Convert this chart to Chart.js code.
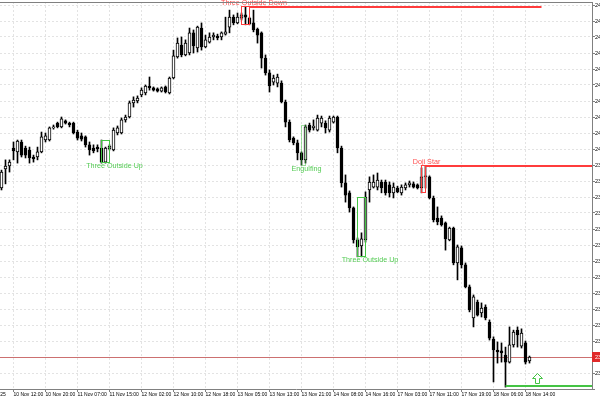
<!DOCTYPE html>
<html><head><meta charset="utf-8">
<script src="https://cdn.jsdelivr.net/npm/chart.js@4.4.1/dist/chart.umd.min.js"></script>
<style>html,body{margin:0;padding:0;background:#fff}#wrap{width:600px;height:400px}</style>
</head><body><div id="wrap"><canvas id="c" width="600" height="400"></canvas></div>
<script>
// ---- DATA (H1 candles) ----
const openP = [23878,23938,23947,24003,23991,24022,24003,23997,23975,23975,
23991,24028,24028,24066,24081,24069,24088,24081,24081,24053,
24041,24038,24013,24003,24006,24003,23959,24000,23997,24050,
24050,24091,24100,24144,24150,24169,24175,24197,24191,24188,
24181,24194,24175,24222,24288,24325,24294,24300,24363,24316,
24378,24319,24334,24350,24353,24350,24359,24381,24412,24394,
24409,24419,24409,24394,24375,24363,24284,24238,24209,24206,
24206,24147,24084,24034,24019,23988,23966,24075,24066,24059,
24081,24081,24059,24084,24100,24003,23894,23863,23816,23716,
23697,23716,23872,23881,23881,23897,23897,23888,23863,23878,
23863,23878,23888,23891,23888,23878,23913,23913,23847,23784,
23784,23769,23716,23753,23644,23691,23638,23569,23472,23522,
23488,23506,23459,23406,23372,23369,23356,23334,23388,23434,
23384,23394,23338];
const highP = [23934,23966,23966,24022,24028,24028,24009,24006,23981,24006,
24053,24050,24069,24075,24084,24100,24091,24084,24084,24059,
24050,24041,24022,24013,24013,24028,24006,24013,24066,24072,
24097,24106,24150,24163,24166,24191,24200,24225,24194,24191,
24194,24197,24225,24309,24347,24350,24341,24378,24372,24384,
24394,24356,24363,24363,24359,24366,24412,24434,24419,24425,
24425,24444,24412,24434,24378,24366,24294,24247,24231,24234,
24213,24153,24091,24038,24028,23991,24075,24081,24091,24106,
24103,24088,24103,24103,24103,24009,23919,23869,23819,23722,
23738,23866,23913,23919,23925,23903,23903,23897,23894,23884,
23888,23894,23900,23897,23891,23941,23947,23916,23853,23819,
23791,23772,23756,23756,23700,23697,23644,23575,23544,23528,
23519,23513,23466,23413,23397,23394,23381,23444,23434,23444,
23438,23400,23353];
const lowP = [23872,23891,23928,23966,23956,23975,23972,23956,23959,23966,
23988,24022,24025,24062,24066,24066,24078,24069,24047,24028,
24025,24006,23981,23988,23991,23956,23956,23997,23994,24044,
24047,24084,24097,24131,24144,24163,24169,24184,24181,24178,
24178,24175,24172,24219,24284,24288,24291,24294,24300,24303,
24309,24316,24331,24341,24341,24341,24356,24363,24388,24391,
24403,24388,24388,24366,24331,24253,24231,24178,24200,24194,
24144,24069,24022,24013,23966,23950,23956,24053,24059,24056,
24069,24050,24053,24081,23988,23881,23834,23803,23706,23663,
23663,23709,23834,23878,23872,23863,23856,23850,23847,23863,
23856,23872,23881,23878,23875,23863,23878,23844,23772,23763,
23759,23684,23713,23638,23591,23628,23566,23491,23444,23478,
23475,23466,23403,23272,23331,23334,23256,23331,23381,23381,
23378,23328,23331];
const closeP = [23928,23947,23959,23994,24025,23981,23981,23972,23969,23991,
24038,24041,24066,24069,24069,24094,24081,24075,24050,24034,
24031,24013,23997,23994,24000,23959,24003,24009,24059,24066,
24091,24100,24144,24153,24159,24184,24197,24191,24184,24181,
24191,24178,24222,24291,24331,24294,24331,24363,24322,24381,
24319,24341,24350,24356,24347,24363,24366,24412,24394,24412,
24419,24412,24391,24372,24356,24284,24238,24197,24222,24225,
24147,24084,24028,24019,23988,23966,24069,24059,24072,24097,
24097,24066,24097,24100,24003,23894,23856,23816,23716,23694,
23719,23850,23897,23897,23903,23878,23863,23863,23881,23866,
23881,23888,23894,23881,23878,23913,23916,23847,23778,23772,
23763,23719,23753,23644,23694,23638,23569,23497,23538,23481,
23503,23472,23409,23372,23366,23363,23334,23388,23428,23419,
23425,23334,23350];
const lastPrice = 23350;

const xTickBars = [-6,3,11,19,27,35,43,51,59,67,75,83,91,99,107,115,123,131];
const xTickLabels = ['10 Nov 2025','10 Nov 12:00','10 Nov 20:00','11 Nov 07:00','11 Nov 15:00',
  '12 Nov 02:00','12 Nov 10:00','12 Nov 18:00','13 Nov 05:00','13 Nov 13:00','13 Nov 21:00',
  '14 Nov 08:00','14 Nov 16:00','17 Nov 03:00','17 Nov 11:00','17 Nov 19:00','18 Nov 06:00','18 Nov 14:00'];
const yTickValues = [23250,23300,23350,23400,23450,23500,23550,23600,23650,23700,23750,23800,23850,
  23900,23950,24000,24050,24100,24150,24200,24250,24300,24350,24400,24450];

// candlestick pattern marks
const patternNames  = ['Three Outside Up','Three Outside Down','Engulfing','Three Outside Up','Doji Star'];
const patternFrom   = [25, 60, 75, 89, 105];
const patternTo     = [27, 62, 76, 91, 106];
const patternTop    = [24028, 24444, 24075, 23850, 23947];
const patternBottom = [23959, 24388, 23950, 23663, 23863];
const patternBull   = [true, false, true, true, false];

// level lines
const levelPrice = [24444, 23947, 23259];
const levelFrom  = [62, 106, 126];
const levelTo    = [135, null, null];
const levelBull  = [false, false, true];

// signal arrows
const arrowBar   = [134];
const arrowPrice = [23259];

// ---- styles ----
const RED = '#ff3c3c', GREEN = '#44c444', RED_TXT = '#ff5050', GREEN_TXT = '#55cc55';
const labelShift = [5, 4.5, 1, 4.5, 1];
const dashedPattern = [false, false, true, false, false];

const overlay = {
  id: 'overlay',
  beforeDatasetsDraw(chart) {
    const {ctx, chartArea: a, scales: {x, y}} = chart;
    ctx.save();
    ctx.beginPath(); ctx.rect(a.left, a.top, a.right - a.left, a.bottom - a.top); ctx.clip();
    ctx.strokeStyle = '#e3e3e3'; ctx.lineWidth = 1; ctx.setLineDash([2, 2]);
    y.ticks.forEach(t => {
      const py = Math.floor(y.getPixelForValue(t.value)) + 0.5;
      ctx.beginPath(); ctx.moveTo(a.left, py); ctx.lineTo(a.right, py); ctx.stroke();
    });
    x.ticks.forEach(t => {
      const px = Math.floor(x.getPixelForValue(t.value)) + 0.5;
      ctx.beginPath(); ctx.moveTo(px, a.top); ctx.lineTo(px, a.bottom); ctx.stroke();
    });
    ctx.setLineDash([]);
    ctx.strokeStyle = '#cc7070';
    const pl = Math.floor(y.getPixelForValue(lastPrice)) + 0.5;
    ctx.beginPath(); ctx.moveTo(a.left, pl); ctx.lineTo(a.right, pl); ctx.stroke();
    ctx.restore();
  },
  afterDatasetsDraw(chart) {
    const {ctx, chartArea: a, scales: {x, y}} = chart;
    ctx.save();
    ctx.beginPath(); ctx.rect(a.left, a.top, a.right - a.left, a.bottom - a.top); ctx.clip();
    levelPrice.forEach((p, k) => {
      const py = Math.round(y.getPixelForValue(p));
      const x1 = x.getPixelForValue(levelFrom[k]);
      const x2 = levelTo[k] === null ? a.right : x.getPixelForValue(levelTo[k]);
      ctx.fillStyle = levelBull[k] ? GREEN : RED;
      ctx.fillRect(x1, py - 1, x2 - x1, 2);
    });
    patternNames.forEach((n, k) => {
      const l = Math.floor(x.getPixelForValue(patternFrom[k])) + 0.5;
      const r = Math.floor(x.getPixelForValue(patternTo[k])) + 0.5;
      const t = Math.floor(y.getPixelForValue(patternTop[k])) + 0.5;
      const b = Math.floor(y.getPixelForValue(patternBottom[k])) + 0.5;
      ctx.strokeStyle = patternBull[k] ? GREEN : RED;
      ctx.lineWidth = 1;
      ctx.setLineDash(dashedPattern[k] ? [1, 1] : []);
      ctx.strokeRect(l, t, r - l, b - t);
    });
    ctx.setLineDash([]);
    arrowBar.forEach((bi, k) => {
      const cx = Math.floor(x.getPixelForValue(bi)) + 0.5;
      const base = Math.round(y.getPixelForValue(arrowPrice[k]));
      const bottom = base - 2.5, top = bottom - 10;
      ctx.beginPath();
      ctx.moveTo(cx, top); ctx.lineTo(cx + 5, top + 5); ctx.lineTo(cx + 2, top + 5);
      ctx.lineTo(cx + 2, bottom); ctx.lineTo(cx - 2, bottom); ctx.lineTo(cx - 2, top + 5);
      ctx.lineTo(cx - 5, top + 5); ctx.closePath();
      ctx.fillStyle = '#ffffff'; ctx.fill();
      ctx.strokeStyle = GREEN; ctx.lineWidth = 1; ctx.stroke();
    });
    ctx.restore();
    ctx.save();
    ctx.font = '7.2px "Liberation Sans", Arial, sans-serif';
    ctx.textAlign = 'center';
    patternNames.forEach((n, k) => {
      const cx = x.getPixelForValue(patternTo[k]) + labelShift[k];
      if (patternBull[k]) {
        ctx.fillStyle = GREEN_TXT; ctx.textBaseline = 'top';
        ctx.fillText(n, cx, Math.floor(y.getPixelForValue(patternBottom[k])) + 0.5);
      } else {
        ctx.fillStyle = RED_TXT; ctx.textBaseline = 'alphabetic';
        ctx.fillText(n, cx, Math.floor(y.getPixelForValue(patternTop[k])) - 1);
      }
    });
    ctx.restore();
  },
  afterDraw(chart) {
    const {ctx, chartArea: a, scales: {y}} = chart;
    ctx.save();
    ctx.fillStyle = '#808080';
    ctx.fillRect(a.left, a.top, a.right - a.left, 1);
    const py = Math.round(y.getPixelForValue(lastPrice));
    ctx.fillStyle = '#e02a2a';
    ctx.fillRect(a.right, py - 5, 10, 10);
    ctx.fillStyle = '#ffffff';
    ctx.font = '5.5px "Liberation Sans", Arial, sans-serif';
    ctx.textBaseline = 'middle'; ctx.textAlign = 'left';
    ctx.fillText(lastPrice.toFixed(1), a.right + 3, py);
    ctx.restore();
  }
};

const idx = openP.map((_, i) => i);
new Chart(document.getElementById('c'), {
  type: 'bar',
  data: {
    datasets: [
      {
        label: 'body',
        data: idx.map(i => ({x: i, y: [openP[i], closeP[i]]})),
        backgroundColor: idx.map(i => closeP[i] >= openP[i] ? '#ffffff' : '#000000'),
        borderColor: '#000000', borderWidth: 1, borderSkipped: false,
        barThickness: 3, grouped: false
      },
      {
        label: 'wick',
        data: idx.map(i => ({x: i, y: [lowP[i], highP[i]]})),
        backgroundColor: '#000000', borderWidth: 0,
        barThickness: 1, grouped: false
      }
    ]
  },
  options: {
    responsive: false, devicePixelRatio: 1, animation: false, events: [],
    layout: {padding: {top: 2, left: 0, right: 0, bottom: 0}},
    plugins: {legend: {display: false}, tooltip: {enabled: false}},
    scales: {
      x: {
        type: 'linear', min: -0.375, max: 147.625, offset: false,
        afterBuildTicks: s => { s.ticks = xTickBars.map(v => ({value: v})); },
        afterFit: s => { s.height = 11; s.paddingLeft = 0; s.paddingRight = 0; },
        ticks: {
          autoSkip: false, maxRotation: 0, minRotation: 0, align: 'start', padding: 0,
          color: '#000000', font: {family: 'Liberation Sans', size: 5},
          callback: v => { const k = xTickBars.indexOf(v); return k >= 0 ? xTickLabels[k] : ''; }
        },
        grid: {drawOnChartArea: false, drawTicks: true, tickLength: 3, tickColor: '#808080', offset: false},
        border: {color: '#808080'}
      },
      y: {
        type: 'linear', position: 'right', min: 23250, max: 24459.375,
        afterBuildTicks: s => { s.ticks = yTickValues.map(v => ({value: v})); },
        afterFit: s => { s.width = 8; s.paddingTop = 0; s.paddingBottom = 0; },
        ticks: {
          padding: 0, color: '#000000', font: {family: 'Liberation Sans', size: 5.5},
          callback: v => v === yTickValues[0] ? '' : Number(v).toFixed(1)
        },
        grid: {drawOnChartArea: false, drawTicks: true, tickLength: 3, tickColor: '#808080'},
        border: {color: '#808080'}
      }
    }
  },
  plugins: [overlay]
});
</script>
</body></html>
